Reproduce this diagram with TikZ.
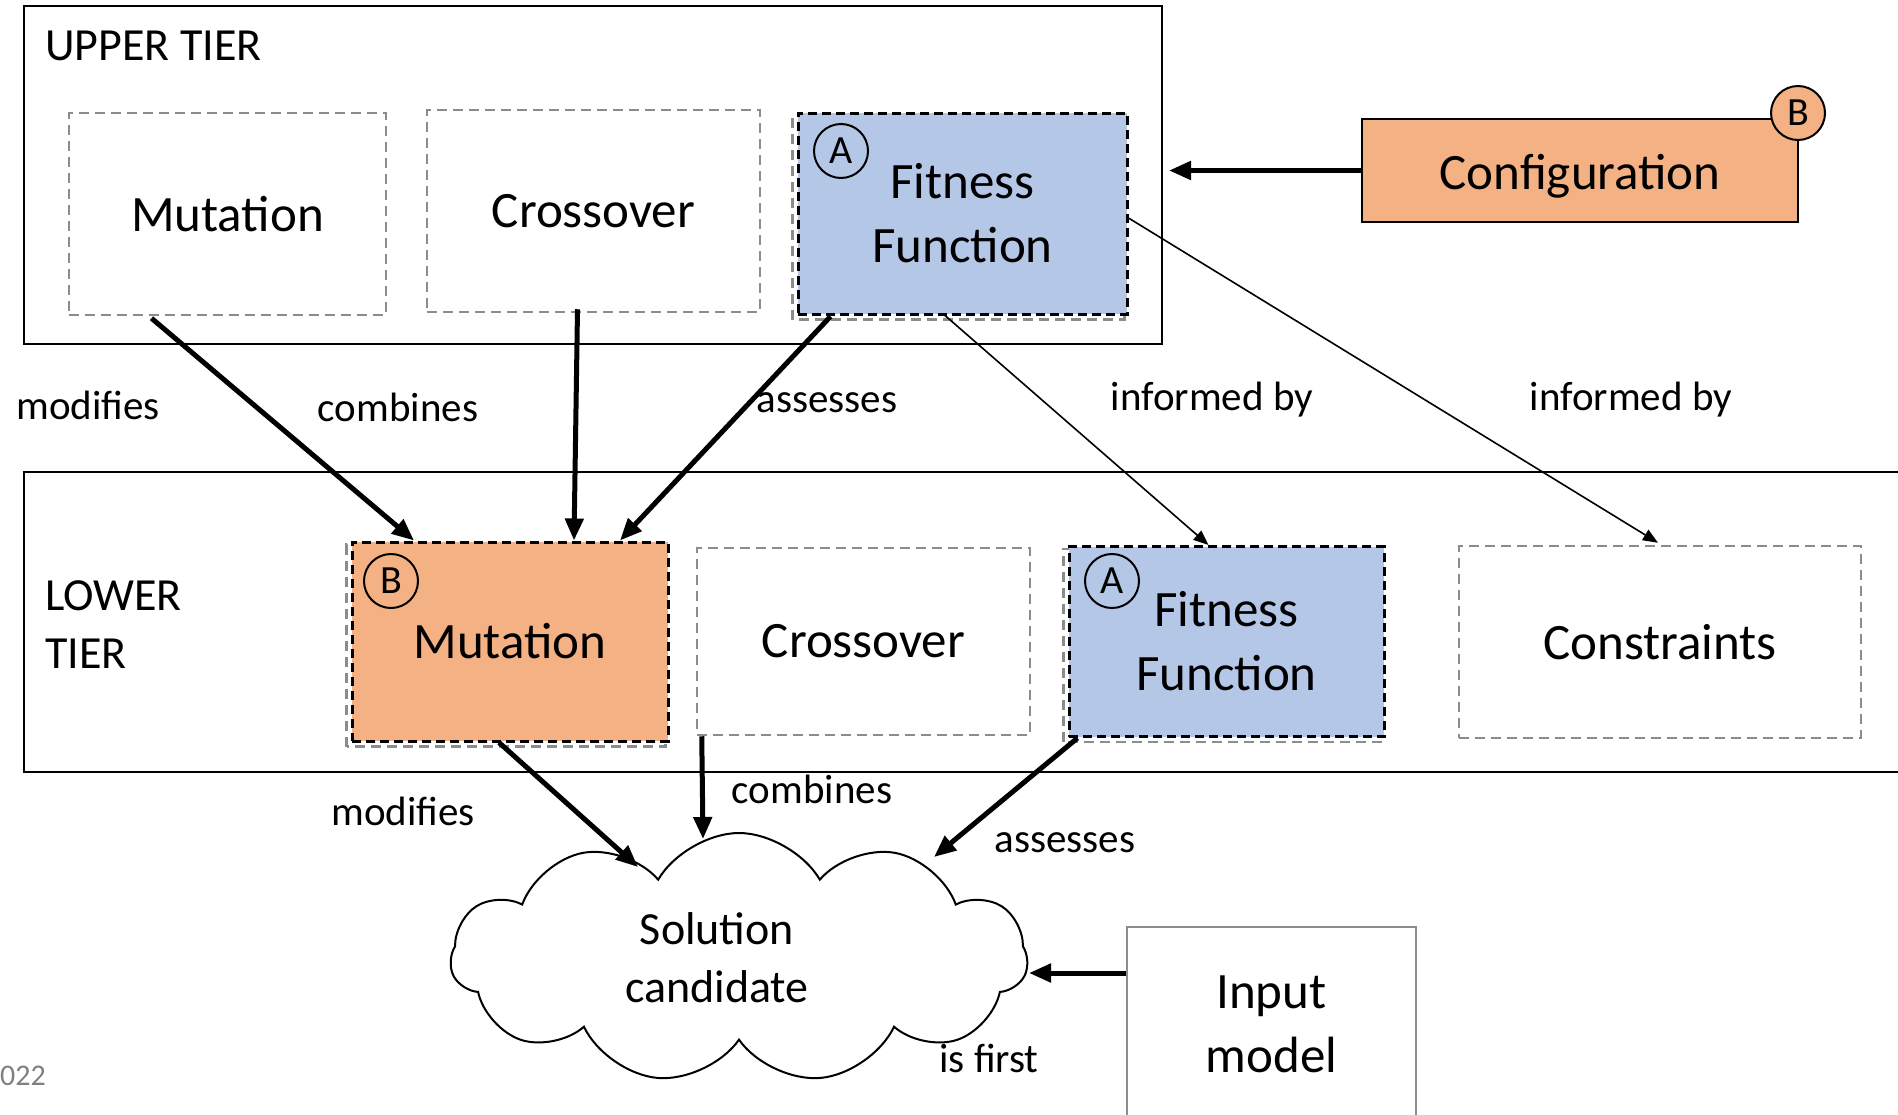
\documentclass[tikz,border=0pt]{standalone}
\usepackage{fontspec}
\setmainfont{Carlito}
\usepackage{tikz}
\usetikzlibrary{arrows.meta,shapes.symbols,backgrounds}

\definecolor{fitblue}{HTML}{B4C7E7}
\definecolor{cfgorange}{HTML}{F4B183}
\definecolor{dashgray}{HTML}{8C8C8C}
\newcommand{\bigfont}{\fontsize{51}{64}\selectfont}
\newcommand{\lblfont}{\fontsize{41}{50}\selectfont}
\newcommand{\tierfont}{\fontsize{46}{58}\selectfont}

\tikzset{
  tier/.style={draw,line width=2pt,inner sep=0pt},
  opbox/.style={draw=dashgray,line width=2.5pt,dash pattern=on 10pt off 6pt,
    inner sep=0pt,font=\bigfont,align=center},
  opsel/.style={opbox,draw=black,line width=3pt,dash pattern=on 9pt off 5pt},
  shadowbox/.style={draw=dashgray,line width=2.5pt,dash pattern=on 10pt off 6pt},
  badge/.style={circle,draw,line width=2pt,minimum size=54pt,inner sep=0pt,
    font=\fontsize{40}{40}\selectfont},
  lbl/.style={font=\lblfont},
  strong/.style={-{Triangle[length=22pt,width=18pt]},line width=5pt},
  weak/.style={-{Triangle[length=15pt,width=12pt]},line width=1.6pt}
}

\begin{document}
\begin{tikzpicture}[x=1pt,y=-1pt]
\useasboundingbox (0,0) rectangle (1898,1114);

% tiers
\node[tier,minimum width=1138pt,minimum height=338pt] (upper) at (593,175) {};
\node[tier,minimum width=1906pt,minimum height=300pt] (lower) at (977,622) {};
\node[font=\tierfont,anchor=west,inner sep=0pt] (uptitle) at (45,46) {UPPER TIER};
\node[font=\tierfont,anchor=west,align=left,inner sep=0pt] (lowtitle) at (45,625) {LOWER\\TIER};

% upper tier operators
\node[opbox,minimum width=317pt,minimum height=202pt] (umut) at (227.5,214) {Mutation};
\node[opbox,minimum width=333pt,minimum height=202pt] (ucro) at (593.5,211) {Crossover};
\node[opsel,fill=fitblue,minimum width=329pt,minimum height=201pt] (ufit) at (962.5,213.5) {Fitness\\Function};
\node[badge] (ubadge) at (841,151) {A};

% configuration
\node[draw,line width=2.5pt,fill=cfgorange,minimum width=436pt,minimum height=103pt,
  font=\bigfont] (conf) at (1580,170.5) {\raisebox{-6pt}[\height][\depth]{Configuration}};
\node[badge,fill=cfgorange] (cbadge) at (1798,113) {B};

% lower tier operators
\node[opsel,fill=cfgorange,minimum width=316pt,minimum height=199pt] (lmut) at (510,641.5) {Mutation};
\node[opbox,minimum width=333pt,minimum height=187pt] (lcro) at (863.5,641.5) {Crossover};
\node[opsel,fill=fitblue,minimum width=315pt,minimum height=190pt] (lfit) at (1226.5,641.5) {Fitness\\Function};
\node[opbox,minimum width=402pt,minimum height=192pt] (cons) at (1660,642) {Constraints};
\node[badge] (lbadgeb) at (391,581) {B};
\node[badge] (lbadgea) at (1112,581) {A};

\begin{scope}[on background layer]
\draw[shadowbox] ([shift={(-4,4)}]ufit.south west) rectangle ([shift={(-4,4)}]ufit.north east);
\draw[shadowbox] ([shift={(-4,4)}]lmut.south west) rectangle ([shift={(-4,4)}]lmut.north east);
\draw[shadowbox] ([shift={(-4,4)}]lfit.south west) rectangle ([shift={(-4,4)}]lfit.north east);
\end{scope}

% solution and input
\node[cloud,draw,line width=2pt,cloud puffs=11,cloud puff arc=120,aspect=2.3,
  minimum width=577pt,minimum height=250pt,inner sep=0pt,
  label={[font=\fontsize{46}{58}\selectfont,align=center,xshift=-22pt]center:Solution\\candidate}] (sol) at (739,958) {};
\node[draw=dashgray,line width=2.5pt,minimum width=289pt,minimum height=194pt,
  font=\bigfont,align=center] (input) at (1271.5,1024) {Input\\model};

% connectors between tiers
\draw[strong] ([shift={(-76,2)}]umut.south) -- ([shift={(-96,0)}]lmut.north);
\draw[strong] ([shift={(-16,-4)}]ucro.south) -- ([shift={(64,0)}]lmut.north);
\draw[strong] ([shift={(-132,1)}]ufit.south) -- ([shift={(110,0)}]lmut.north);
\draw[weak] ([shift={(-17.5,0)}]ufit.south) -- ([shift={(-18,0)}]lfit.north);
\draw[weak] ([shift={(0,4.5)}]ufit.east) -- ([shift={(-2,-2)}]cons.north);
\draw[strong] (conf.west) -- ([shift={(6,0)}]conf.west -| upper.east);

% connectors to the solution
\draw[strong] ([shift={(-11,0)}]lmut.south) -- ([shift={(-101,-91)}]sol.center);
\draw[strong] ([shift={(6,0)}]lcro.south west) -- ([shift={(-36,-119)}]sol.center);
\draw[strong] ([shift={(10,0)}]lfit.south west) -- ([shift={(195,-101)}]sol.center);
\draw[strong] ([shift={(0,-51)}]input.west) -- ([shift={(290,15)}]sol.center);

% labels
\node[lbl] (l1) at (88,405) {modifies};
\node[lbl] (l2) at (398,407) {combines};
\node[lbl] (l3) at (827,403) {assesses};
\node[lbl] (l4) at (1212,400) {informed by};
\node[lbl] (l5) at (1631,400) {informed by};
\node[lbl] (l6) at (403,811) {modifies};
\node[lbl] (l7) at (812,789) {combines};
\node[lbl] (l8) at (1065,843) {assesses};
\node[lbl] (l9) at (989,1058) {is first};
\node[font=\fontsize{30}{30}\selectfont,text=gray,anchor=west,inner sep=0pt] (year) at (0,1076) {022};
\end{tikzpicture}
\end{document}
